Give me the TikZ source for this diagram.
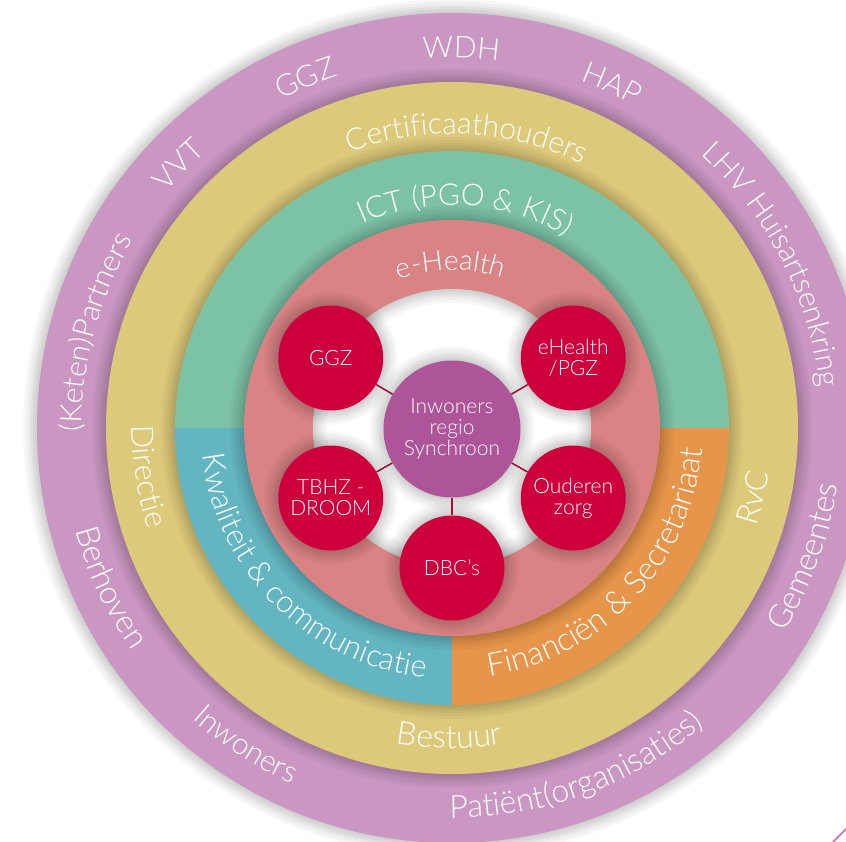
\documentclass[tikz,border=0pt]{standalone}
\usepackage{fontspec}
\IfFontExistsTF{Lato Light}{\setmainfont{Lato Light}}{\setmainfont{Liberation Sans}}
\usetikzlibrary{decorations.text}
\definecolor{cPurple}{HTML}{CA96C2}
\definecolor{cYellow}{HTML}{DCC97A}
\definecolor{cGreen}{HTML}{7CC2A5}
\definecolor{cTeal}{HTML}{63B5C2}
\definecolor{cOrange}{HTML}{E6954A}
\definecolor{cPink}{HTML}{D98384}
\definecolor{cRed}{HTML}{CE003C}
\definecolor{cMid}{HTML}{AE5498}
\definecolor{cConn}{HTML}{A0143C}
\definecolor{cLine}{HTML}{C884BE}
% clockwise label (tops outward): angle, baseline radius, size, text
\newcommand{\cwlabel}[4]{%
  \path[decorate,decoration={text along path,text align=center,text color=white,
    text={|\fontsize{#3}{#3}\selectfont|#4}}]
    (#1+60:#2pt) arc[start angle=#1+60,end angle=#1-60,radius=#2pt];}
% counter-clockwise label (tops inward)
\newcommand{\ccwlabel}[4]{%
  \path[decorate,decoration={text along path,text align=center,text color=white,
    text={|\fontsize{#3}{#3}\selectfont|#4}}]
    (#1-60:#2pt) arc[start angle=#1-60,end angle=#1+60,radius=#2pt];}
% soft shadow around a disc of radius #1 centred at #2
\newcommand{\softshadow}[2]{%
  \foreach \dd in {14,11,8,6,4,2}{%
    \fill[black,opacity=0.03] (#2) circle[radius={#1pt+\dd pt}];}}
\begin{document}
\begin{tikzpicture}[x=1pt,y=1pt,
  redball/.style={circle,fill=cRed,minimum size=105pt,inner sep=0pt,text=white,
    align=center,font=\fontsize{21}{21}\selectfont},
  midball/.style={circle,fill=cMid,minimum size=137pt,inner sep=0pt,text=white,
    align=center,font=\fontsize{21}{21}\selectfont},
  conn/.style={draw=cConn,line width=1.6pt}]
\useasboundingbox (-452,-413) rectangle (394,428);
\fill[white] (-452,-413) rectangle (394,428);
\coordinate (O) at (0,0);
% rings
\softshadow{415}{O}
\fill[cPurple] (O) circle[radius=415pt];
\softshadow{346}{O}
\fill[cYellow] (O) circle[radius=346pt];
\softshadow{277}{O}
\fill[cGreen] (O) circle[radius=277pt];
\fill[cTeal] (O) -- (180:277pt) arc[start angle=180,end angle=270,radius=277pt] -- cycle;
\fill[cOrange] (O) -- (270:277pt) arc[start angle=270,end angle=360,radius=277pt] -- cycle;
\softshadow{208}{O}
\fill[cPink] (O) circle[radius=208pt];
\fill[white] (O) circle[radius=139pt];
\foreach \dd in {14,11,8,6,4,2}{%
  \fill[black,opacity=0.03,even odd rule] (O) circle[radius=139pt] circle[radius={139pt-\dd pt}];}
% ring labels: purple
\cwlabel{88.6}{370}{30}{WDH}
\cwlabel{112.7}{370}{30}{GGZ}
\cwlabel{65}{370}{30}{HAP}
\cwlabel{136}{370}{30}{VVT}
\cwlabel{165}{370}{30}{(Keten)Partners}
\cwlabel{27}{370}{30}{LHV Huisartsenkring}
\ccwlabel{-20}{390}{32}{Gemeentes}
\ccwlabel{-70}{390}{32}{Patiënt(organisaties)}
\ccwlabel{237}{390}{30}{Inwoners}
\ccwlabel{205}{390}{32}{Berhoven}
% yellow
\cwlabel{87}{294}{30}{Certificaathouders}
\ccwlabel{189}{320}{31}{Directie}
\ccwlabel{-13}{320}{31}{RvC}
\ccwlabel{-90.5}{320}{32}{Bestuur}
% green / teal / orange
\cwlabel{86.5}{223}{30}{ICT (PGO {\&} KIS)}
\ccwlabel{225}{251}{31}{Kwaliteit {\&} communicatie}
\ccwlabel{-43}{251}{32}{Financiën {\&} Secretariaat}
% pink
\cwlabel{90.5}{158}{28}{e-Health}
% node shadows
\foreach \a in {150,30,210,330,270}{\softshadow{52.5}{\a:140pt}}
\softshadow{68.5}{0,-1}
% nodes
\node[midball] (mid) at (0,-1) {Inwoners\\regio\\Synchroon};
\node[redball] (ggz) at (150:140pt) {GGZ};
\node[redball] (eh) at (30:140pt) {eHealth\\/PGZ};
\node[redball] (tbhz) at (210:140pt) {TBHZ -\\DROOM};
\node[redball] (oud) at (330:140pt) {Ouderen\\zorg};
\node[redball] (dbc) at (270:140pt) {DBC’s};
% connectors
\draw[conn] (mid) -- (ggz);
\draw[conn] (mid) -- (eh);
\draw[conn] (mid) -- (tbhz);
\draw[conn] (mid) -- (oud);
\draw[conn] (mid) -- (dbc);
% corner stroke
\coordinate (s1) at (381,-414);
\coordinate (s2) at (396,-399);
\draw[cLine,line width=2pt] (s1) -- (s2);
\end{tikzpicture}
\end{document}
